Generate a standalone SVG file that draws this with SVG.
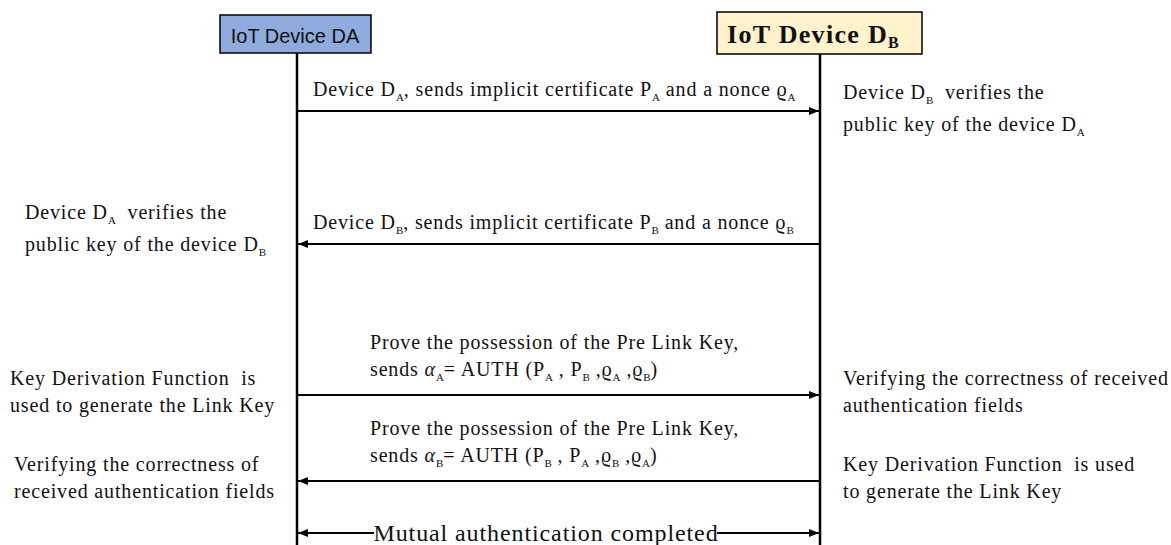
<svg xmlns="http://www.w3.org/2000/svg" width="1171" height="545" viewBox="0 0 1171 545">
  <style>
    .t { font-family: "Liberation Serif", "Times New Roman", serif; font-size: 20px; fill: #111; letter-spacing: 0.85px; white-space: pre; }
    .s { font-size: 11px; letter-spacing: 0; }
    .big { font-size: 24px; letter-spacing: 0.9px; }
    .life { stroke: #000; stroke-width: 2.5; fill: none; }
    .msg { stroke: #000; stroke-width: 2; fill: none; }
  </style>
  <defs>
    <marker id="head" viewBox="0 0 10 8" refX="10" refY="4" markerWidth="10" markerHeight="8" markerUnits="userSpaceOnUse" orient="auto-start-reverse">
      <path d="M0,0 L10,4 L0,8 Z" fill="#000"/>
    </marker>
  </defs>
  <rect width="1171" height="545" fill="#fff"/>

  <!-- participants -->
  <g id="deviceA">
    <rect x="220" y="15" width="151" height="38" fill="#8faadc" stroke="#000" stroke-width="1.5"/>
    <text x="295" y="43" text-anchor="middle" font-family="Liberation Sans, Arial, sans-serif" font-size="20" fill="#111">IoT Device DA</text>
  </g>
  <g id="deviceB">
    <rect x="717" y="12" width="205" height="42" fill="#fff2cc" stroke="#000" stroke-width="1.5"/>
    <text x="727" y="43" font-family="Liberation Serif, serif" font-size="26" font-weight="bold" letter-spacing="1.3" fill="#111">IoT Device D<tspan dy="5" font-size="16" letter-spacing="0">B</tspan></text>
  </g>

  <!-- lifelines and messages -->
  <g id="connectors">
    <line class="life" x1="297" y1="53" x2="297" y2="545"/>
    <line class="life" x1="820" y1="54" x2="820" y2="545"/>
    <line class="msg" x1="298" y1="111" x2="819" y2="111" marker-end="url(#head)"/>
    <line class="msg" x1="819" y1="244" x2="298" y2="244" marker-end="url(#head)"/>
    <line class="msg" x1="298" y1="395" x2="819" y2="395" marker-end="url(#head)"/>
    <line class="msg" x1="819" y1="481" x2="298" y2="481" marker-end="url(#head)"/>
    <line class="msg" x1="298" y1="533" x2="374" y2="533" marker-start="url(#head)"/>
    <line class="msg" x1="717" y1="533" x2="819" y2="533" marker-end="url(#head)"/>
  </g>

  <!-- message labels -->
  <g id="msg1-label">
    <text class="t" x="313" y="96">Device D<tspan class="s" dy="5">A</tspan><tspan dy="-5">, sends implicit certificate P</tspan><tspan class="s" dy="5">A</tspan><tspan dy="-5"> and a nonce ϱ</tspan><tspan class="s" dy="5">A</tspan></text>
  </g>
  <g id="msg2-label">
    <text class="t" x="313" y="229">Device D<tspan class="s" dy="5">B</tspan><tspan dy="-5">, sends implicit certificate P</tspan><tspan class="s" dy="5">B</tspan><tspan dy="-5"> and a nonce ϱ</tspan><tspan class="s" dy="5">B</tspan></text>
  </g>
  <g id="msg3-label">
    <text class="t" x="370" y="349">Prove the possession of the Pre Link Key,</text>
    <text class="t" x="370" y="376">sends <tspan font-style="italic">α</tspan><tspan class="s" dy="5">A</tspan><tspan dy="-5">= AUTH (P</tspan><tspan class="s" dy="5">A</tspan><tspan dy="-5"> , P</tspan><tspan class="s" dy="5">B</tspan><tspan dy="-5"> ,ϱ</tspan><tspan class="s" dy="5">A</tspan><tspan dy="-5"> ,ϱ</tspan><tspan class="s" dy="5">B</tspan><tspan dy="-5">)</tspan></text>
  </g>
  <g id="msg4-label">
    <text class="t" x="370" y="435">Prove the possession of the Pre Link Key,</text>
    <text class="t" x="370" y="462">sends <tspan font-style="italic">α</tspan><tspan class="s" dy="5">B</tspan><tspan dy="-5">= AUTH (P</tspan><tspan class="s" dy="5">B</tspan><tspan dy="-5"> , P</tspan><tspan class="s" dy="5">A</tspan><tspan dy="-5"> ,ϱ</tspan><tspan class="s" dy="5">B</tspan><tspan dy="-5"> ,ϱ</tspan><tspan class="s" dy="5">A</tspan><tspan dy="-5">)</tspan></text>
  </g>
  <g id="msg5-label">
    <text class="t big" x="546" y="541" text-anchor="middle">Mutual authentication completed</text>
  </g>

  <!-- notes beside the lifelines -->
  <g id="noteB-verify">
    <text class="t" x="843" y="99">Device D<tspan class="s" dy="5">B</tspan><tspan dy="-5">  verifies the</tspan></text>
    <text class="t" x="843" y="131">public key of the device D<tspan class="s" dy="5">A</tspan></text>
  </g>
  <g id="noteA-verify">
    <text class="t" x="25" y="219">Device D<tspan class="s" dy="5">A</tspan><tspan dy="-5">  verifies the</tspan></text>
    <text class="t" x="25" y="251">public key of the device D<tspan class="s" dy="5">B</tspan></text>
  </g>
  <g id="noteA-kdf">
    <text class="t" x="10" y="385">Key Derivation Function  is</text>
    <text class="t" x="10" y="412">used to generate the Link Key</text>
  </g>
  <g id="noteB-check">
    <text class="t" x="843" y="385">Verifying the correctness of received</text>
    <text class="t" x="843" y="412">authentication fields</text>
  </g>
  <g id="noteA-check">
    <text class="t" x="14" y="471">Verifying the correctness of</text>
    <text class="t" x="14" y="498">received authentication fields</text>
  </g>
  <g id="noteB-kdf">
    <text class="t" x="843" y="471">Key Derivation Function  is used</text>
    <text class="t" x="843" y="498">to generate the Link Key</text>
  </g>
</svg>
